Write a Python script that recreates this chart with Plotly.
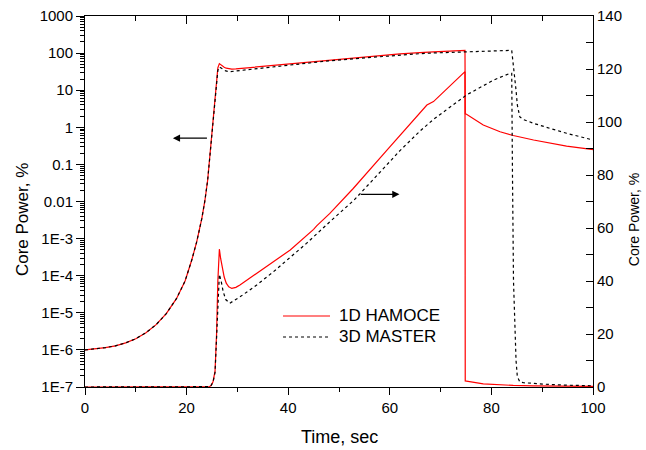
import plotly.graph_objects as go
import numpy as np

# ---- data: 1D HAMOCE (core power, %) ----
t_1d = [0, 2, 4, 6, 8, 10, 12, 14, 16, 18, 19.7, 21, 22, 23, 23.6, 24.15, 24.5, 24.8, 25.2,
        25.6, 25.9, 26.15, 26.45, 26.7, 27.0, 27.4, 27.8, 28.3, 28.9, 29.7, 30.5, 32.8, 35.4,
        37.1, 40.4, 45.0, 45.6, 48.2, 50.8, 52.8, 59.4, 62.0, 65.9, 67.3, 68.6, 74.8, 74.85,
        75.1, 78.4, 81.7, 84.3, 88.3, 91.5, 94.8, 99.7, 100]
p_1d = [1.0e-6, 1.06e-6, 1.15e-6, 1.29e-6, 1.55e-6, 2.0e-6, 2.9e-6, 4.8e-6, 9.5e-6, 2.4e-5,
        7.2e-5, 2.6e-4, 8.3e-4, 3.5e-3, 1.05e-2, 0.038, 0.126, 0.55, 2.0, 6.0, 20, 40, 52, 48.5,
        45, 41.5, 39.2, 37.8, 37.2, 37.6, 38.5, 41.6, 44.8, 47.3, 51.7, 59.5, 60.8, 65.5, 70.6,
        74.9, 89.3, 94.8, 103.3, 106.4, 107.7, 119, 2.3, 2.25, 1.15, 0.76, 0.6, 0.455, 0.37,
        0.31, 0.255, 0.25]

# ---- data: 3D MASTER (core power, %) ----
t_3d = [0, 2, 4, 6, 8, 10, 12, 14, 16, 18, 19.7, 21, 22, 23, 23.6, 24.15, 24.5, 24.8, 25.2,
        25.6, 25.9, 26.15, 26.45, 26.8, 27.2, 27.7, 28.5, 30.5, 33.8, 37.1, 43.6, 48.0, 53.0,
        59.4, 62.0, 65.9, 68.6, 75.1, 80.4, 83.7, 84.0, 84.15, 84.35, 84.6, 84.85, 85.1, 85.6,
        86.3, 88.3, 91.5, 94.8, 100]
p_3d = [1.0e-6, 1.06e-6, 1.15e-6, 1.29e-6, 1.55e-6, 2.0e-6, 2.9e-6, 4.8e-6, 9.5e-6, 2.4e-5,
        7.2e-5, 2.6e-4, 8.3e-4, 3.5e-3, 1.05e-2, 0.038, 0.12, 0.5, 1.8, 5.5, 18, 34, 42.5, 40,
        36, 33, 31.6, 34, 38.5, 43.5, 54.2, 62, 70.6, 83.8, 89.2, 96.5, 101, 110.2, 115.8,
        118.4, 118.4, 80, 40, 25, 10, 4, 1.9, 1.62, 1.28, 0.94, 0.69, 0.455]

x_ticks = [0, 20, 40, 60, 80, 100]
log_tickvals = [1e-7, 1e-6, 1e-5, 1e-4, 1e-3, 1e-2, 1e-1, 1, 10, 100, 1000]
log_ticktext = ['1E-7', '1E-6', '1E-5', '1E-4', '1E-3', '0.01', '0.1', '1', '10', '100', '1000']
lin_ticks = [0, 20, 40, 60, 80, 100, 120, 140]

names = ['1D HAMOCE', '3D MASTER']

FONT = 'Arial, Liberation Sans, sans-serif'
red = '#ff0000'
blk = '#000000'

fig = go.Figure()
fig.add_trace(go.Scatter(x=t_1d, y=p_1d, mode='lines', name=names[0], showlegend=False,
                         line=dict(color=red, width=1.2), xaxis='x', yaxis='y'))
fig.add_trace(go.Scatter(x=t_3d, y=p_3d, mode='lines', name=names[1], showlegend=False,
                         line=dict(color=blk, width=1.2, dash='dot'), xaxis='x', yaxis='y'))
fig.add_trace(go.Scatter(x=t_1d, y=p_1d, mode='lines', name=names[0], showlegend=False,
                         line=dict(color=red, width=1.2), xaxis='x2', yaxis='y2'))
fig.add_trace(go.Scatter(x=t_3d, y=p_3d, mode='lines', name=names[1], showlegend=False,
                         line=dict(color=blk, width=1.2, dash='dot'), xaxis='x2', yaxis='y2'))

minor_log = [m * 10.0 ** e for e in range(-7, 3) for m in range(2, 10)]

fig.update_layout(
    width=646, height=450,
    margin=dict(l=85, r=53, t=16, b=63, autoexpand=False),
    paper_bgcolor='white', plot_bgcolor='white',
    font=dict(family=FONT, size=15, color='black'),
    showlegend=False,
    xaxis=dict(range=[0, 100], showline=True, linecolor='black', linewidth=1, mirror=False,
               automargin=False,
               ticks='outside', ticklen=7, tickwidth=1, tickcolor='black',
               tickmode='array', tickvals=x_ticks, showgrid=False, zeroline=False,
               minor=dict(ticks='outside', ticklen=4, dtick=10, tick0=0, tickcolor='black', showgrid=False),
               tickfont=dict(size=15)),
    xaxis2=dict(range=[0, 100], overlaying='x', side='top', anchor='y2', showline=True,
                automargin=False,
                linecolor='black', linewidth=1, ticks='inside', ticklen=8, tickcolor='black',
                tickmode='array', tickvals=x_ticks, showticklabels=False, showgrid=False,
                zeroline=False,
                minor=dict(ticks='inside', ticklen=5, dtick=10, tick0=0, tickcolor='black', showgrid=False)),
    yaxis=dict(type='log', range=[-7, 3], showline=True, linecolor='black', linewidth=1,
               automargin=False,
               ticks='outside', ticklen=8, tickcolor='black', tickmode='array',
               tickvals=log_tickvals, ticktext=log_ticktext, showgrid=False, zeroline=False,
               minor=dict(ticks='outside', ticklen=4, tickmode='array', tickvals=minor_log,
                          tickcolor='black', showgrid=False),
               tickfont=dict(size=15)),
    yaxis2=dict(range=[0, 140], overlaying='y', side='right', anchor='x2', showline=True,
                automargin=False,
                linecolor='black', linewidth=1, ticks='inside', ticklen=7, tickcolor='black',
                tickmode='array', tickvals=lin_ticks, showgrid=False, zeroline=False,
                minor=dict(ticks='inside', ticklen=7, dtick=10, tick0=0, tickcolor='black', showgrid=False),
                tickfont=dict(size=15)),
)

# axis titles
fig.add_annotation(xref='paper', yref='paper', x=0.5, y=-0.135, text='Time, sec',
                   showarrow=False, font=dict(size=18, family=FONT),
                   xanchor='center', yanchor='middle')
fig.add_annotation(xref='paper', yref='paper', x=-0.124, y=0.45, text='Core Power, %',
                   textangle=-90, showarrow=False, font=dict(size=17, family=FONT),
                   xanchor='center', yanchor='middle')
fig.add_annotation(xref='paper', yref='paper', x=1.081, y=0.45, text='Core Power, %',
                   textangle=-90, showarrow=False, font=dict(size=14, family=FONT),
                   xanchor='center', yanchor='middle')

# legend (drawn manually)
leg_y = [0.1914, 0.1348]
leg_styles = [dict(color=red, width=1.2), dict(color=blk, width=1.2, dash='dot')]
for nm, yy, st in zip(names, leg_y, leg_styles):
    fig.add_shape(type='line', xref='paper', yref='paper', x0=0.3898, x1=0.4823, y0=yy, y1=yy,
                  line=st)
    fig.add_annotation(xref='paper', yref='paper', x=0.4961, y=yy, text=nm, showarrow=False,
                       xanchor='left', yanchor='middle', font=dict(size=17, family=FONT))

# direction arrows
fig.add_annotation(xref='x', yref='y', x=17.3, y=np.log10(0.51), ax=24.3, ay=np.log10(0.51),
                   axref='x', ayref='y', text='', showarrow=True, arrowhead=2, arrowsize=1.2,
                   arrowwidth=1.2, arrowcolor='black')
fig.add_annotation(xref='x2', yref='y2', x=61.9, y=72.7, ax=54.0, ay=72.7,
                   axref='x2', ayref='y2', text='', showarrow=True, arrowhead=2, arrowsize=1.2,
                   arrowwidth=1.2, arrowcolor='black')

fig.write_html('out.html')
